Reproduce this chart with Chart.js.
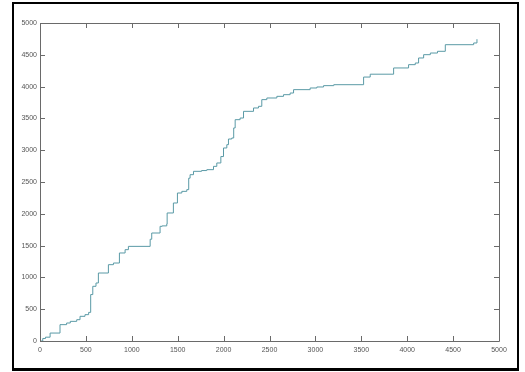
<!DOCTYPE html>
<html><head><meta charset="utf-8">
<script src="https://cdn.jsdelivr.net/npm/chart.js@4"></script>
<style>
html,body{margin:0;padding:0;background:#fff;}
#wrap{position:relative;width:525px;height:372px;}
#frame{position:absolute;left:12px;top:2px;width:503px;height:364px;border:2px solid #000;border-bottom-width:3px;pointer-events:none;}
canvas{position:absolute;left:0;top:0;}
</style></head><body>
<div id="wrap"><canvas id="c" width="525" height="372"></canvas><div id="frame"></div></div>
<script>
// Cumulative step curve: x position of each step and the value reached there
const stepX = [0, 30, 60, 110, 218, 290, 330, 400, 436, 490, 530, 552, 575, 610, 636, 745, 800, 865, 927, 963,
  1200, 1217, 1308, 1330, 1381, 1385, 1453, 1497, 1545, 1599, 1620, 1635, 1672, 1760, 1817, 1890, 1926, 1970, 1999,
  2035, 2053, 2089, 2110, 2126, 2180, 2217, 2326, 2380, 2416, 2471, 2580, 2653, 2725, 2762, 2943, 3016, 3089, 3200,
  3525, 3597, 3852, 4015, 4088, 4124, 4179, 4252, 4330, 4415, 4724, 4760];
const stepY = [0, 40, 60, 125, 257, 283, 309, 335, 388, 414, 450, 730, 860, 912, 1069, 1200, 1226, 1384, 1436, 1488,
  1600, 1698, 1803, 1810, 1840, 2013, 2170, 2327, 2353, 2380, 2560, 2615, 2668, 2680, 2694, 2746, 2799, 2900, 3035,
  3087, 3176, 3192, 3350, 3480, 3506, 3611, 3664, 3690, 3795, 3821, 3847, 3873, 3899, 3952, 3978, 3994, 4015, 4030,
  4150, 4195, 4293, 4345, 4371, 4450, 4502, 4528, 4555, 4659, 4686, 4745];
const xTicks = [0, 500, 1000, 1500, 2000, 2500, 3000, 3500, 4000, 4500, 5000];
const yTicks = [0, 500, 1000, 1500, 2000, 2500, 3000, 3500, 4000, 4500, 5000];

const points = stepX.map((x, i) => ({x: x, y: stepY[i]}));

const boxTicks = {
  id: 'boxTicks',
  afterDraw(chart) {
    const ctx = chart.ctx, a = chart.chartArea;
    const xs = chart.scales.x, ys = chart.scales.y;
    ctx.save();
    ctx.strokeStyle = '#6a6a6a';
    ctx.lineWidth = 1;
    ctx.beginPath();
    ctx.rect(Math.round(a.left) + 0.5, Math.round(a.top) + 0.5, Math.round(a.right - a.left), Math.round(a.bottom - a.top));
    const L = 5;
    xTicks.forEach(v => {
      const p = Math.round(xs.getPixelForValue(v)) + 0.5;
      ctx.moveTo(p, a.bottom); ctx.lineTo(p, a.bottom - L);
      ctx.moveTo(p, a.top); ctx.lineTo(p, a.top + L);
    });
    yTicks.forEach(v => {
      const p = Math.round(ys.getPixelForValue(v)) + 0.5;
      ctx.moveTo(a.left, p); ctx.lineTo(a.left + L, p);
      ctx.moveTo(a.right, p); ctx.lineTo(a.right - L, p);
    });
    ctx.stroke();
    ctx.restore();
  }
};

const font = {family: "'Liberation Sans Narrow', 'Liberation Sans', Arial, sans-serif", size: 7};
const plain = v => String(v);

new Chart(document.getElementById('c'), {
  type: 'line',
  data: {
    datasets: [{
      data: points,
      borderColor: '#5a9aa6',
      borderWidth: 1,
      pointRadius: 0,
      stepped: true,
      tension: 0,
      fill: false
    }]
  },
  options: {
    responsive: false,
    animation: false,
    events: [],
    layout: {padding: {left: 0, top: 23, right: 26, bottom: 0}},
    plugins: {legend: {display: false}, tooltip: {enabled: false}},
    scales: {
      x: {
        type: 'linear', min: 0, max: 5000,
        afterBuildTicks: s => { s.ticks = xTicks.map(v => ({value: v})); },
        afterFit: s => { s.height = 31; },
        grid: {drawOnChartArea: false, drawTicks: false},
        border: {display: false},
        ticks: {font: font, color: '#555', padding: 5, maxRotation: 0, autoSkip: false, callback: plain}
      },
      y: {
        type: 'linear', min: 0, max: 5000,
        afterBuildTicks: s => { s.ticks = yTicks.map(v => ({value: v})); },
        afterFit: s => { s.width = 40; },
        grid: {drawOnChartArea: false, drawTicks: false},
        border: {display: false},
        ticks: {font: font, color: '#555', padding: 3, autoSkip: false, callback: plain}
      }
    }
  },
  plugins: [boxTicks]
});
</script>
</body></html>
